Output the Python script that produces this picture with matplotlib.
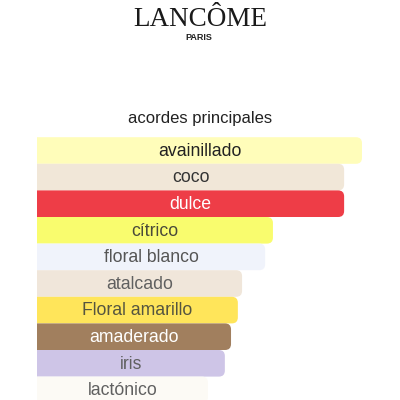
import matplotlib
matplotlib.use("Agg")
import matplotlib.pyplot as plt
from matplotlib.patches import FancyBboxPatch

accords = ["avainillado", "coco", "dulce", "cítrico", "floral blanco",
           "atalcado", "Floral amarillo", "amaderado", "iris", "lactónico"]
strength = [100, 94.5, 94.5, 72.6, 70.2, 63.1, 61.8, 59.7, 57.8, 52.6]
bar_colors = ["#FFFDBA", "#F1E7D8", "#EE3D47", "#F9FC6E", "#F0F3FB",
              "#F0E6DA", "#FFE55A", "#A17F5E", "#CEC5E7", "#FCFAF5"]
text_colors = ["#222222", "#333333", "#FFFFFF", "#4A4A3A", "#555555",
               "#606060", "#555540", "#FFFFFF", "#606060", "#606060"]

W, H = 400, 400
fig = plt.figure(figsize=(4, 4), dpi=100)
fig.patch.set_facecolor("white")

# header
fig.text(200 / W, 1 - 26.5 / H, "LANCÔME", ha="center", va="baseline",
         family="Liberation Serif", fontsize=19.5, color="#1a1a1a")
fig.text(199 / W, 1 - 40.5 / H, "PARIS", ha="center", va="baseline",
         family="Liberation Sans", fontsize=6.5, weight="bold", color="#222222")
fig.text(200 / W, 1 - 119 / H, "acordes principales", ha="center", va="center",
         family="Liberation Sans", fontsize=12, color="#222222")

# bars: left at x=37px, 100 units = 325px, 26.6px per row, top at 137.2px
left, full, pitch, top = 37, 325, 26.6, 137.2
ax_h = H - top
nrows = ax_h / pitch
ax = fig.add_axes([left / W, 0, (W - left) / W, ax_h / H])
xmax = (W - left) / full * 100
ax.set_xlim(0, xmax)
ax.set_ylim(-0.5 + nrows, -0.5)
ax.axis("off")

bars = ax.barh(range(len(accords)), strength, height=1.0, color=bar_colors)
xs = full / 100  # px per unit
r_px = 6
for rect, c, name, tc in zip(bars, bar_colors, accords, text_colors):
    x0, y0 = rect.get_x(), rect.get_y()
    w, h = rect.get_width(), rect.get_height()
    rect.set_visible(False)
    rx = r_px / xs
    ry = r_px / pitch
    box = FancyBboxPatch((x0 - 5, y0), w + 5, h,
                         boxstyle=f"round,pad=0,rounding_size={rx}",
                         mutation_aspect=ry / rx,
                         facecolor=c, edgecolor="none")
    ax.add_patch(box)
    ax.text(x0 + w / 2, y0 + h / 2 + 0.03, name, ha="center", va="center",
            family="Liberation Sans", fontsize=12.7, color=tc)

fig.savefig("out.png", dpi=100, facecolor="white")
